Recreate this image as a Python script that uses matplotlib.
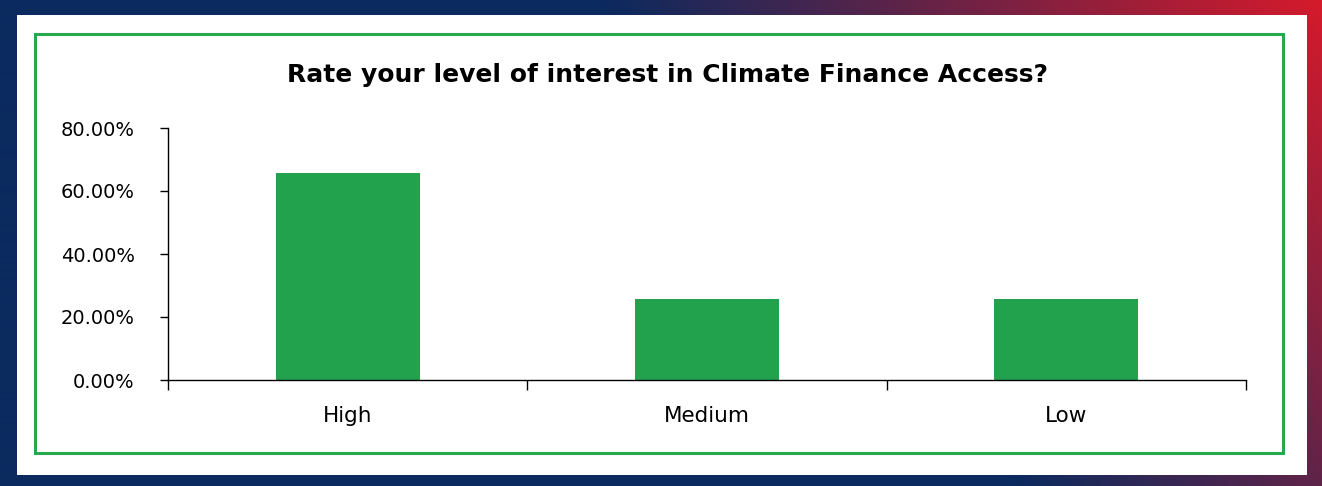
import matplotlib.pyplot as plt
import numpy as np
from matplotlib.patches import Rectangle
from matplotlib.ticker import FuncFormatter

categories = ['High', 'Medium', 'Low']
values = [65.7, 25.7, 25.7]
yticks = [0, 20, 40, 60, 80]
title = 'Rate your level of interest in Climate Finance Access?'

W, H = 1322, 486
fig = plt.figure(figsize=(W / 100, H / 100), dpi=100)

# frame: diagonal navy -> red gradient border, white inside, green box
bg = fig.add_axes([0, 0, 1, 1], zorder=0)
xx, yy = np.meshgrid(np.arange(W), np.arange(H))
t = np.clip((xx - (600 + 420 * yy / H)) / 722.0, 0, 1)
navy = np.array([11, 42, 94]) / 255
red = np.array([214, 26, 43]) / 255
img = navy[None, None, :] * (1 - t[..., None]) + red[None, None, :] * t[..., None]
bg.imshow(img, extent=(0, W, H, 0), aspect='auto', interpolation='bilinear')
bg.add_patch(Rectangle((17, 15), 1307 - 17, 475 - 15, facecolor='white', edgecolor='none'))
bg.add_patch(Rectangle((35, 34), 1283 - 35, 453 - 34, facecolor='none',
                       edgecolor='#27A84F', linewidth=2.2))
bg.set_xlim(0, W)
bg.set_ylim(H, 0)
bg.axis('off')

ax = fig.add_axes([168 / W, 1 - 380 / H, (1246 - 168) / W, (380 - 128) / H], zorder=1)
ax.patch.set_alpha(0)
x = np.arange(len(categories))
ax.bar(x, values, width=0.4, color='#23A24D')

ax.set_xlim(-0.5, len(categories) - 0.5)
ax.set_ylim(0, 80)
ax.set_yticks(yticks)
ax.yaxis.set_major_formatter(FuncFormatter(lambda v, p: f'{v:.2f}%'))
ax.tick_params(axis='y', direction='out', length=6, width=1, labelsize=14, pad=18)

ax.set_xticks(np.arange(-0.5, len(categories)), minor=False)
ax.set_xticklabels([])
ax.set_xticks(x, minor=True)
ax.set_xticklabels(categories, minor=True)
ax.tick_params(axis='x', which='major', direction='out', length=7, width=1)
ax.tick_params(axis='x', which='minor', length=0, labelsize=15.5, pad=19)

for s in ['top', 'right']:
    ax.spines[s].set_visible(False)
for s in ['left', 'bottom']:
    ax.spines[s].set_linewidth(1)

fig.text(667 / W, 1 - 75 / H, title, ha='center', va='center',
         fontsize=18, fontweight='bold', zorder=2)

fig.savefig('out.png', dpi=100)
